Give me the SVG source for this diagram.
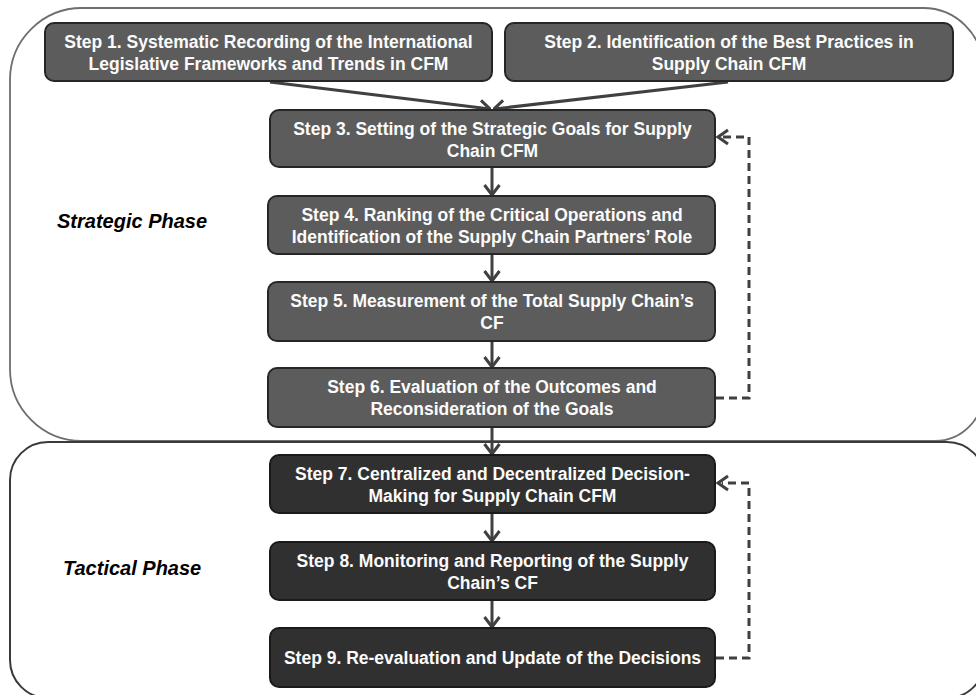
<svg xmlns="http://www.w3.org/2000/svg" width="976" height="695" viewBox="0 0 976 695">
<defs>
<style>
.ph{fill:none;}
.n1 rect{fill:#5c5c5c;stroke:#262626;stroke-width:2;}
.n2 rect{fill:#303030;stroke:#1a1a1a;stroke-width:2;}
.t{font-family:"Liberation Sans",Arial,sans-serif;font-weight:bold;font-size:17.5px;fill:#fbfbfb;text-anchor:middle;}
.lbl{font-family:"Liberation Sans",Arial,sans-serif;font-weight:bold;font-style:italic;font-size:20px;fill:#000;}
.c{fill:none;stroke:#404040;stroke-width:3;marker-end:url(#ah);}
.d{fill:none;stroke:#404040;stroke-width:3;stroke-dasharray:8 5;}
</style>
<marker id="ah" viewBox="0 0 12 18" refX="11" refY="9" markerWidth="12" markerHeight="18" markerUnits="userSpaceOnUse" orient="auto">
<path d="M1,1.5 L11,9 L1,16.5" fill="none" stroke="#404040" stroke-width="3"/>
</marker>
</defs>
<rect width="976" height="695" fill="#fff"/>
<g id="strategic-phase">
<path class="ph" d="M82,8 H923 A60,60 0 0 1 983,68 V393 A48,48 0 0 1 935,441 H82 A72,72 0 0 1 10,369 V80 A72,72 0 0 1 82,8 Z" stroke="#6e6e6e" stroke-width="1.8"/>
<text class="lbl" x="57" y="228">Strategic  Phase</text>
</g>
<g id="tactical-phase">
<rect class="ph" x="10" y="442" width="975" height="256" rx="38" stroke="#3a3a3a" stroke-width="2"/>
<text class="lbl" x="63" y="575">Tactical Phase</text>
</g>
<g id="connectors">
<path class="c" d="M270,82 L490,109"/>
<path class="c" d="M728,82 L494,109"/>
<path class="c" d="M492,167 V195"/>
<path class="c" d="M492,254 V281"/>
<path class="c" d="M492,341 V367"/>
<path class="c" d="M492,427 V454"/>
<path class="c" d="M492,513 V541"/>
<path class="c" d="M492,600 V627"/>
<path class="d" d="M716,398 H749 V137 H722"/>
<path d="M728,130 L718,137 L728,144" fill="none" stroke="#404040" stroke-width="3"/>
<path class="d" d="M716,658 H749 V483 H722"/>
<path d="M728,476 L718,483 L728,490" fill="none" stroke="#404040" stroke-width="3"/>
</g>
<g id="step1" class="n1">
<rect x="45" y="23" width="447" height="58" rx="9"/>
<text class="t" x="268.5" y="48">Step 1. Systematic Recording of the International</text>
<text class="t" x="268.5" y="70">Legislative Frameworks and Trends in CFM</text>
</g>
<g id="step2" class="n1">
<rect x="505" y="23" width="448" height="58" rx="9"/>
<text class="t" x="729" y="48">Step 2. Identification of the Best Practices in</text>
<text class="t" x="729" y="70">Supply Chain CFM</text>
</g>
<g id="step3" class="n1">
<rect x="270" y="110" width="445" height="57" rx="9"/>
<text class="t" x="492.5" y="135">Step 3. Setting of the Strategic Goals for Supply</text>
<text class="t" x="492.5" y="157">Chain CFM</text>
</g>
<g id="step4" class="n1">
<rect x="268" y="196" width="447" height="58" rx="9"/>
<text class="t" x="492" y="221">Step 4. Ranking of the Critical Operations and</text>
<text class="t" x="492" y="243">Identification of the Supply Chain Partners’ Role</text>
</g>
<g id="step5" class="n1">
<rect x="268" y="282" width="447" height="59" rx="9"/>
<text class="t" x="492" y="307">Step 5. Measurement of the Total Supply Chain’s</text>
<text class="t" x="492" y="329">CF</text>
</g>
<g id="step6" class="n1">
<rect x="268" y="368" width="447" height="59" rx="9"/>
<text class="t" x="492" y="393">Step 6. Evaluation of the Outcomes and</text>
<text class="t" x="492" y="415">Reconsideration of the Goals</text>
</g>
<g id="step7" class="n2">
<rect x="270" y="455" width="445" height="58" rx="9"/>
<text class="t" x="492.5" y="480">Step 7. Centralized and Decentralized Decision-</text>
<text class="t" x="492.5" y="502">Making for Supply Chain CFM</text>
</g>
<g id="step8" class="n2">
<rect x="270" y="542" width="445" height="58" rx="9"/>
<text class="t" x="492.5" y="567">Step 8. Monitoring and Reporting of the Supply</text>
<text class="t" x="492.5" y="589">Chain’s CF</text>
</g>
<g id="step9" class="n2">
<rect x="270" y="628" width="445" height="59" rx="9"/>
<text class="t" x="492.5" y="664">Step 9. Re-evaluation and Update of the Decisions</text>
</g>
</svg>
